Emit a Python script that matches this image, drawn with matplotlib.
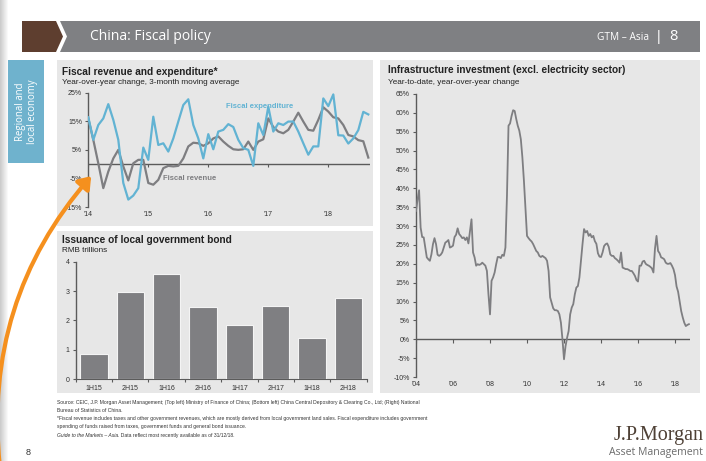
import matplotlib
matplotlib.use("Agg")
import matplotlib.pyplot as plt
from matplotlib.patches import Rectangle, Polygon, FancyArrowPatch
import numpy as np

W, H = 706, 461

# ---- data: fiscal revenue / expenditure, yoy %, 3m avg, monthly from Jan 2014 ----
fiscal_expenditure = [16.4, 8.5, 13.7, 16.0, 21.0, 15.5, 8.5, -6.6, -12.4, -11.0,
                      -8.4, 5.8, 1.5, 16.6, 6.7, 7.3, 4.4, 9.0, 14.9, 20.7,
                      22.7, 13.7, 9.0, 2.0, 10.5, 5.2, 11.4, 12.0, 14.0, 13.0,
                      8.5, 5.6, 5.0, -0.6, 14.3, 10.2, 20.1, 11.4, 14.3, 13.7,
                      14.9, 14.9, 11.4, 7.3, 3.3, 6.2, 6.2, 23.0, 20.3, 24.4,
                      10.1, 10.0, 7.2, 9.0, 11.9, 18.3, 17.4]
fiscal_revenue = [16.0, 8.5, 0.3, -8.4, -2.6, 2.0, 5.0, -0.8, -5.7, 0.3,
                  1.5, 1.5, -6.6, -7.2, -5.5, -1.4, -0.6, -0.8, -0.6, 2.0,
                  6.2, 7.5, 7.3, 6.4, 7.3, 9.0, 9.7, 7.9, 6.4, 5.2,
                  5.0, 5.2, 7.9, 5.0, 7.9, 8.7, 16.0, 13.0, 11.4, 10.8,
                  12.0, 14.9, 18.0, 14.9, 12.0, 11.7, 15.5, 19.9, 18.4, 16.4,
                  16.0, 13.7, 10.2, 9.7, 8.4, 8.0, 2.3]
fiscal_years = [2014, 2015, 2016, 2017, 2018]

# ---- data: local government bond issuance, RMB trillions ----
bond_labels = ['1H15', '2H15', '1H16', '2H16', '1H17', '2H17', '1H18', '2H18']
bond_issuance = [0.86, 2.97, 3.57, 2.47, 1.85, 2.49, 1.40, 2.76]

# ---- data: infrastructure investment, ytd yoy %, monthly from Jan 2004 ----
infra_yoy = [34.0, 37.0, 39.5, 29.6, 27.1, 27.0, 24.3, 21.7, 21.2, 20.8,
             22.5, 25.2, 26.8, 25.2, 22.4, 22.1, 22.4, 23.0, 24.3, 25.6,
             25.9, 26.3, 24.3, 24.5, 24.8, 27.1, 27.7, 29.4, 27.9, 27.4,
             26.8, 27.0, 26.3, 27.0, 25.4, 28.7, 31.8, 23.0, 21.7, 19.5,
             19.9, 19.7, 19.9, 20.3, 19.9, 19.5, 18.1, 11.9, 6.6, 15.5,
             16.4, 17.7, 19.9, 21.8, 21.8, 21.5, 22.4, 22.1, 24.3, 38.0,
             56.6, 57.2, 59.2, 60.7, 60.5, 58.4, 56.6, 55.3, 53.0, 48.2,
             42.0, 34.9, 27.4, 26.8, 26.3, 25.9, 25.2, 24.3, 23.4, 23.0,
             22.1, 21.8, 22.1, 21.8, 21.5, 20.8, 18.1, 11.1, 9.7, 8.2,
             7.7, 7.7, 7.5, 6.6, 4.4, 0.0, -5.3, -1.8, 0.4, 2.2,
             6.6, 8.4, 9.3, 11.9, 13.7, 14.1, 16.4, 20.8, 25.2, 29.2,
             28.3, 28.7, 27.4, 27.9, 27.0, 27.4, 26.0, 25.3, 22.8, 21.9,
             21.8, 23.0, 24.7, 25.2, 25.4, 24.5, 22.5, 22.1, 22.1, 21.5,
             21.2, 20.8, 20.3, 23.0, 19.0, 18.8, 18.6, 18.6, 18.4, 18.1,
             18.1, 17.5, 16.8, 15.7, 15.3, 19.5, 19.5, 20.6, 20.8, 20.0,
             19.7, 19.5, 19.2, 18.8, 17.7, 24.0, 27.4, 23.4, 22.8, 21.7,
             21.5, 21.2, 20.3, 20.0, 20.0, 20.2, 19.5, 18.6, 17.0, 14.0,
             12.6, 10.0, 7.5, 5.8, 4.4, 3.5, 3.8, 4.0]
infra_years = [2004, 2006, 2008, 2010, 2012, 2014, 2016, 2018]

PANEL = '#e7e7e7'
GRAY = '#7e7e81'
BLUE = '#62b3d3'
AXIS = '#5b5b5b'
TXT = '#333333'
SANS = ['Liberation Sans', 'DejaVu Sans']
OPEN = ['Open Sans', 'DejaVu Sans']

plt.rcParams['font.family'] = SANS


def fx(x):
    return x / W


def fy(y):
    return 1 - y / H


def rect(x0, y0, x1, y1, color, z=0):
    fig.patches.append(Rectangle((fx(x0), fy(y1)), fx(x1) - fx(x0), fy(y0) - fy(y1),
                                 transform=fig.transFigure, facecolor=color,
                                 edgecolor='none', zorder=z))


def poly(pts, color, z=0):
    fig.patches.append(Polygon([(fx(a), fy(b)) for a, b in pts], closed=True,
                               transform=fig.transFigure, facecolor=color,
                               edgecolor='none', zorder=z))


def axes_px(x0, y0, x1, y1):
    ax = fig.add_axes([fx(x0), fy(y1), fx(x1) - fx(x0), fy(y0) - fy(y1)])
    ax.set_zorder(2)
    ax.set_facecolor('none')
    for s in ['top', 'right', 'bottom']:
        ax.spines[s].set_visible(False)
    ax.spines['left'].set_color(AXIS)
    ax.spines['left'].set_linewidth(1.0)
    ax.tick_params(axis='y', length=2.5, width=0.8, color=AXIS, labelsize=5, labelcolor=TXT, pad=2)
    ax.tick_params(axis='x', length=0, labelsize=5, labelcolor=TXT)
    return ax


fig = plt.figure(figsize=(W / 100, H / 100), dpi=100)
fig.patch.set_facecolor('white')

# page edge shadow
for k in range(8):
    rect(k, 0, k + 1, H, str(0.80 + 0.025 * k), z=0)

# header
poly([(22, 21), (56, 21), (63, 36.5), (56, 52), (22, 52)], '#5e3e2f', z=1)
poly([(60, 21), (700, 21), (700, 52), (60, 52), (67, 36.5)], '#7f8083', z=1)
fig.text(fx(90), fy(37), 'China: Fiscal policy', color='white', fontsize=10,
         family=OPEN, va='center', ha='left')
fig.text(fx(649), fy(37), 'GTM – Asia', color='white', fontsize=7.3,
         family=OPEN, va='center', ha='right')
fig.text(fx(659), fy(37), '|', color='white', fontsize=10, va='center', ha='center')
fig.text(fx(673), fy(37), '8', color='white', fontsize=10.5,
         family=OPEN, va='center', ha='center')

# side tab
rect(8, 60, 44, 163, '#6fb2cd', z=1)
fig.text(fx(26.5), fy(112), 'Regional and\nlocal economy', color='white', fontsize=6.9,
         rotation=90, va='center', ha='center', linespacing=1.05, family=OPEN)

# panels
rect(57, 60, 373, 226, PANEL, z=0.5)
rect(57, 231, 373, 393, PANEL, z=0.5)
rect(380, 60, 700, 393, PANEL, z=0.5)

# ---- top left: fiscal revenue and expenditure ----
ax1 = axes_px(88.3, 92.7, 370.3, 207)
xm = 2014 + np.arange(len(fiscal_revenue)) / 12
ax1.plot(xm, fiscal_revenue, color=GRAY, lw=1.6, zorder=3)
ax1.plot(xm, fiscal_expenditure, color=BLUE, lw=1.6, zorder=4)
ax1.axhline(0, color=AXIS, lw=1.0, zorder=2)
ax1.vlines(fiscal_years, -0.9, 0, color=AXIS, lw=0.8)
ax1.set_xlim(2014, 2018.7)
ax1.set_ylim(-15, 25)
ax1.set_yticks([-15, -5, 5, 15, 25])
ax1.set_yticklabels(['-15%', '-5%', '5%', '15%', '25%'])
ax1.set_xticks(fiscal_years)
ax1.set_xticklabels(["'" + str(y)[2:] for y in fiscal_years])
ax1.tick_params(axis='x', pad=3)
ax1.text(2016.3, 19.5, 'Fiscal expenditure', color=BLUE, fontsize=5.5, fontweight='bold')
ax1.text(2015.25, -5.5, 'Fiscal revenue', color=GRAY, fontsize=5.5, fontweight='bold')
fig.text(fx(62), fy(72), 'Fiscal revenue and expenditure*', fontsize=7.3, fontweight='bold',
         color='#222222', va='center')
fig.text(fx(62), fy(82), 'Year-over-year change, 3-month moving average', fontsize=5.9,
         color='#222222', va='center')

# ---- bottom left: bond issuance ----
ax2 = axes_px(75.7, 261.7, 366.7, 379)
pos = np.arange(len(bond_issuance))
ax2.bar(pos, bond_issuance, width=0.75, color='#7f7f82', edgecolor='#f4f4f4', lw=0.8, zorder=3)
ax2.set_xlim(-0.5, len(bond_issuance) - 0.5)
ax2.set_ylim(0, 4)
ax2.set_yticks([0, 1, 2, 3, 4])
ax2.set_xticks(pos)
ax2.set_xticklabels(bond_labels)
ax2.set_xticks(np.arange(-0.5, len(bond_issuance)), minor=True)
ax2.spines['bottom'].set_visible(True)
ax2.spines['bottom'].set_color(AXIS)
ax2.tick_params(axis='x', which='minor', length=2.5, width=0.8, color=AXIS)
ax2.tick_params(axis='x', which='major', length=0, pad=4)
fig.text(fx(62), fy(240), 'Issuance of local government bond', fontsize=7.3, fontweight='bold',
         color='#222222', va='center')
fig.text(fx(62), fy(250), 'RMB trillions', fontsize=5.9, color='#222222', va='center')

# ---- right: infrastructure investment ----
ax3 = axes_px(416, 94, 690, 377)
xi = 2004 + np.arange(len(infra_yoy)) / 12
ax3.plot(xi, infra_yoy, color=GRAY, lw=1.3, zorder=3)
ax3.axhline(0, color=AXIS, lw=1.0, zorder=2)
ax3.vlines(infra_years, -0.9, 0, color=AXIS, lw=0.8)
ax3.set_xlim(2004, 2018.81)
ax3.set_ylim(-10, 65)
ax3.set_yticks(range(-10, 66, 5))
ax3.set_yticklabels([f'{v}%' for v in range(-10, 66, 5)])
ax3.set_xticks(infra_years)
ax3.set_xticklabels(["'" + str(y)[2:] for y in infra_years])
ax3.tick_params(axis='x', pad=3)
fig.text(fx(388), fy(70), 'Infrastructure investment (excl. electricity sector)', fontsize=7.3,
         fontweight='bold', color='#222222', va='center')
fig.text(fx(388), fy(82), 'Year-to-date, year-over-year change', fontsize=5.9,
         color='#222222', va='center')

# ---- footer ----
FS = 3.6
foot = ['Source: CEIC, J.P. Morgan Asset Management; (Top left) Ministry of Finance of China; '
        '(Bottom left) China Central Depository & Clearing Co., Ltd; (Right) National',
        'Bureau of Statistics of China.',
        '*Fiscal revenue includes taxes and other government revenues, which are mostly derived '
        'from local government land sales. Fiscal expenditure includes government',
        'spending of funds raised from taxes, government funds and general bond issuance.']
for k, line in enumerate(foot):
    fig.text(fx(57), fy(402.5 + 8.1 * k), line, fontsize=FS, color=TXT, va='center')
ital = fig.text(fx(57), fy(435), 'Guide to the Markets – Asia', fontsize=FS, color=TXT,
                va='center', style='italic')
renderer = fig.canvas.get_renderer()
bb = ital.get_window_extent(renderer)
fig.text(bb.x1 / W + 0.0005, fy(435), '. Data reflect most recently available as of 31/12/18.',
         fontsize=FS, color=TXT, va='center')
fig.text(fx(28), fy(452), '8', fontsize=6.5, color=TXT, va='center', ha='center')

# logo
fig.text(fx(704), fy(435), 'J.P.Morgan', fontsize=14.5, color='#4f4136', ha='right', va='center',
         family=['Liberation Serif', 'DejaVu Serif'])
fig.text(fx(703), fy(452.5), 'Asset Management', fontsize=7.6, color='#6b6b6b', ha='right',
         va='center', family=OPEN)

# orange arrow
arrow = FancyArrowPatch((fx(0), fy(468)), (fx(93), fy(174)), transform=fig.transFigure,
                        connectionstyle='arc3,rad=-0.22', arrowstyle='-|>,head_length=7,head_width=5',
                        color='#f5901e', lw=3, zorder=10)
fig.patches.append(arrow)

fig.savefig('out.png', dpi=100, facecolor='white')
